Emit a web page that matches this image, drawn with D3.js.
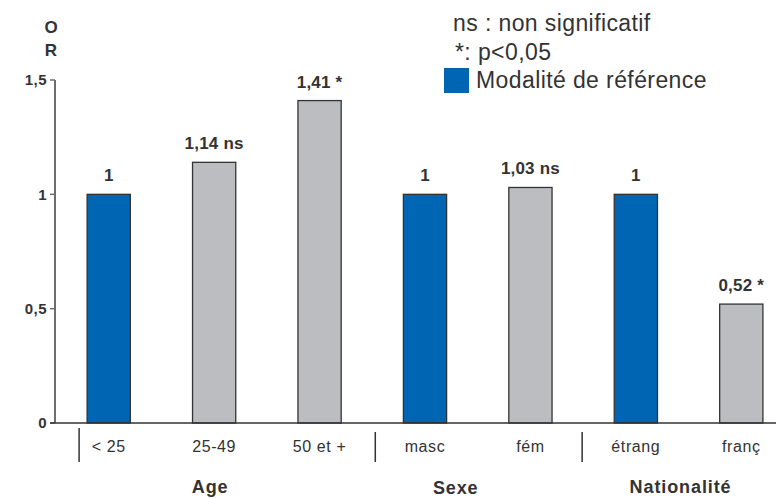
<!DOCTYPE html>
<html>
<head>
<meta charset="utf-8">
<script src="https://cdn.jsdelivr.net/npm/d3@7/dist/d3.min.js"></script>
<style>
  html, body { margin: 0; padding: 0; background: #fff; }
  svg { display: block; font-family: "Liberation Sans", Arial, Helvetica, sans-serif; }
</style>
</head>
<body>
<svg id="chart" width="776" height="498"></svg>
<script>
// ---- data ----
const categories = ["< 25", "25-49", "50 et +", "masc", "fém", "étrang", "franç"];
const values = [1, 1.14, 1.41, 1, 1.03, 1, 0.52];
const valueLabels = ["1", "1,14 ns", "1,41 *", "1", "1,03 ns", "1", "0,52 *"];
const isReference = [true, false, false, true, false, true, false];
const groupNames = ["Age", "Sexe", "Nationalité"];
const groupMembers = [["< 25", "25-49", "50 et +"], ["masc", "fém"], ["étrang", "franç"]];
const yTicks = [0, 0.5, 1, 1.5];
const yTickLabels = ["0", "0,5", "1", "1,5"];
const legendLines = ["ns : non significatif", "*: p<0,05"];
const legendRefLabel = "Modalité de référence";

// ---- layout ----
const svg = d3.select("#chart");
const blue = "#0066b3", grey = "#bcbdc0", dark = "#333333", axisGrey = "#6d6e71";

const x = d3.scaleBand().domain(categories).range([56, 794]).paddingInner(0.59).paddingOuter(0.295);
const y = d3.scaleLinear().domain([0, 1.5]).range([423, 80]);

// y axis line
svg.append("line").attr("x1", 55).attr("x2", 55).attr("y1", y(1.5)).attr("y2", y(0))
  .attr("stroke", axisGrey).attr("stroke-width", 2);

// y ticks
const yt = svg.append("g");
yTicks.forEach((t, i) => {
  yt.append("line").attr("x1", 50).attr("x2", 55).attr("y1", y(t)).attr("y2", y(t))
    .attr("stroke", axisGrey).attr("stroke-width", 1.5);
  yt.append("text").attr("x", 47).attr("y", y(t)).attr("dy", "0.36em")
    .attr("text-anchor", "end").attr("font-size", 15).attr("font-weight", "bold")
    .attr("letter-spacing", 0.5).attr("fill", dark).text(yTickLabels[i]);
});

// y title "O R"
svg.append("text").attr("x", 51).attr("y", 33).attr("text-anchor", "middle")
  .attr("font-size", 17).attr("font-weight", "bold").attr("fill", dark).text("O");
svg.append("text").attr("x", 51).attr("y", 56).attr("text-anchor", "middle")
  .attr("font-size", 17).attr("font-weight", "bold").attr("fill", dark).text("R");

// bars
svg.append("g").selectAll("rect").data(categories).join("rect")
  .attr("x", d => x(d))
  .attr("y", (d, i) => y(values[i]))
  .attr("width", x.bandwidth())
  .attr("height", (d, i) => y(0) - y(values[i]))
  .attr("fill", (d, i) => isReference[i] ? blue : grey)
  .attr("stroke", dark).attr("stroke-width", 1.3);

// value labels
svg.append("g").selectAll("text").data(categories).join("text")
  .attr("x", d => x(d) + x.bandwidth() / 2)
  .attr("y", (d, i) => y(values[i]) - 13)
  .attr("text-anchor", "middle").attr("font-size", 17).attr("font-weight", "bold")
  .attr("letter-spacing", 0.2).attr("fill", dark)
  .text((d, i) => valueLabels[i]);

// x baseline
svg.append("line").attr("x1", 50).attr("x2", 776).attr("y1", y(0)).attr("y2", y(0))
  .attr("stroke", dark).attr("stroke-width", 1.5);

// category labels
svg.append("g").selectAll("text").data(categories).join("text")
  .attr("x", d => x(d) + x.bandwidth() / 2)
  .attr("y", 452)
  .attr("text-anchor", "middle").attr("font-size", 16).attr("letter-spacing", 0.6)
  .attr("fill", dark).text(d => d);

// group separators
const sepXs = [
  x(categories[0]) - 8,
  (x("50 et +") + x.bandwidth() + x("masc")) / 2 + 3,
  (x("fém") + x.bandwidth() + x("étrang")) / 2 - 1
];
const sepTops = [428, 432, 432];
sepXs.forEach((sx, i) => {
  svg.append("line").attr("x1", sx).attr("x2", sx).attr("y1", sepTops[i]).attr("y2", 462)
    .attr("stroke", dark).attr("stroke-width", 1.5);
});

// group labels
const groupOffsets = [-4, -22, -8];
const groupBaselines = [493, 494, 493];
groupNames.forEach((g, i) => {
  const centers = groupMembers[i].map(c => x(c) + x.bandwidth() / 2);
  const cx = d3.mean(centers) + groupOffsets[i];
  svg.append("text").attr("x", cx).attr("y", groupBaselines[i])
    .attr("text-anchor", "middle").attr("font-size", 18).attr("font-weight", "bold")
    .attr("letter-spacing", 0.9).attr("fill", dark).text(g);
});

// legend
const legendBaselines = [31, 60];
legendLines.forEach((t, i) => {
  svg.append("text").attr("x", i === 0 ? 453 : 455).attr("y", legendBaselines[i])
    .attr("font-size", 23).attr("letter-spacing", 0.4).attr("fill", dark).text(t);
});
svg.append("rect").attr("x", 444).attr("y", 68).attr("width", 25).attr("height", 25).attr("fill", blue);
svg.append("text").attr("x", 476).attr("y", 88).attr("font-size", 23).attr("letter-spacing", 0.4)
  .attr("fill", dark).text(legendRefLabel);
</script>
</body>
</html>
